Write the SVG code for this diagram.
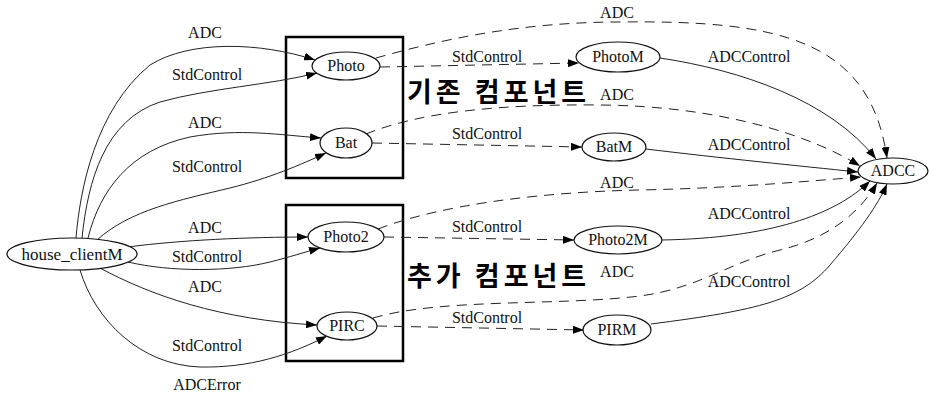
<svg xmlns="http://www.w3.org/2000/svg" width="930" height="393" viewBox="0 0 930 393">
  <style>
    .bg { fill: #ffffff; }
    .node ellipse { fill: #ffffff; stroke: #111; stroke-width: 1.2; }
    .node text, .lbl { font-family: "Liberation Serif", "Times New Roman", serif; font-size: 16px; fill: #111; text-anchor: middle; }
    .box { fill: none; stroke: #000; stroke-width: 2.5; }
    .edge { fill: none; stroke: #222; stroke-width: 1; marker-end: url(#arrow); }
    .dash { stroke-dasharray: 10 7; }
    .title { font-family: "Noto Sans CJK KR", "Noto Sans", sans-serif; font-size: 27px; font-weight: 700; fill: #000; letter-spacing: 4px; }
  </style>
  <defs>
    <marker id="arrow" markerWidth="11" markerHeight="8" refX="11" refY="4" orient="auto" markerUnits="userSpaceOnUse">
      <path d="M0,0 L11,4 L0,8 z" fill="#000"/>
    </marker>
  </defs>

  <rect class="bg" x="0" y="0" width="930" height="393"/>

  <!-- component group frames -->
  <rect class="box" x="286" y="37" width="117" height="141"/>
  <rect class="box" x="286" y="205" width="117" height="156"/>

  <!-- connectors -->
  <g id="edges">
    <!-- house_clientM to sensor wrappers -->
    <path class="edge" d="M76,238 C80,190 95,110 150,65 C190,40 260,42 315,60"/>
    <path class="edge" d="M82,238 C88,180 105,120 160,102 C210,88 270,85 317,73"/>
    <path class="edge" d="M88,238 C100,190 130,150 190,137 C240,128 280,135 321,138"/>
    <path class="edge" d="M97,240 C130,210 180,200 230,188 C270,178 300,165 326,153"/>
    <path class="edge" d="M128,247 C180,240 250,237 308,237"/>
    <path class="edge" d="M128,262 C170,272 230,272 270,262 C290,257 305,252 320,248"/>
    <path class="edge" d="M100,268 C150,295 220,320 317,325"/>
    <path class="edge" d="M80,270 C95,320 140,365 200,367 C250,368 290,355 327,336"/>

    <!-- wrappers to ADCC (ADC, dashed) -->
    <path class="edge dash" d="M376,58 C440,40 520,22 620,22 C780,20 870,40 887,158"/>
    <path class="edge dash" d="M366,134 C420,112 500,104 600,105 C720,106 810,135 860,166"/>
    <path class="edge dash" d="M378,229 C440,205 540,192 640,190 C740,188 820,180 861,177"/>
    <path class="edge dash" d="M373,318 C440,298 560,306 640,296 C700,288 730,262 780,250 C830,238 860,212 877,183"/>

    <!-- wrappers to M modules (StdControl, dashed) -->
    <path class="edge dash" d="M380,67 L579,63"/>
    <path class="edge dash" d="M372,143 L582,147"/>
    <path class="edge dash" d="M384,237 L574,240"/>
    <path class="edge dash" d="M377,326 L584,330"/>

    <!-- M modules to ADCC (ADCControl) -->
    <path class="edge" d="M660,58 C740,70 830,100 876,159"/>
    <path class="edge" d="M646,149 C720,158 800,166 858,172"/>
    <path class="edge" d="M662,240 C770,238 835,215 870,181"/>
    <path class="edge" d="M651,324 C760,310 800,300 830,265 C860,230 878,205 887,184"/>
  </g>

  <!-- connector labels -->
  <g id="edge-labels">
    <text class="lbl" x="205" y="38">ADC</text>
    <text class="lbl" x="207" y="80">StdControl</text>
    <text class="lbl" x="205" y="128">ADC</text>
    <text class="lbl" x="207" y="172">StdControl</text>
    <text class="lbl" x="205" y="233">ADC</text>
    <text class="lbl" x="207" y="262">StdControl</text>
    <text class="lbl" x="205" y="292">ADC</text>
    <text class="lbl" x="207" y="351">StdControl</text>
    <text class="lbl" x="207" y="390">ADCError</text>

    <text class="lbl" x="487" y="62">StdControl</text>
    <text class="lbl" x="487" y="139">StdControl</text>
    <text class="lbl" x="487" y="232">StdControl</text>
    <text class="lbl" x="487" y="323">StdControl</text>

    <text class="lbl" x="617" y="18">ADC</text>
    <text class="lbl" x="617" y="100">ADC</text>
    <text class="lbl" x="617" y="188">ADC</text>
    <text class="lbl" x="617" y="277">ADC</text>

    <text class="lbl" x="749" y="62">ADCControl</text>
    <text class="lbl" x="749" y="150">ADCControl</text>
    <text class="lbl" x="749" y="219">ADCControl</text>
    <text class="lbl" x="749" y="287">ADCControl</text>
  </g>

  <!-- group captions -->
  <text class="title" x="407" y="102">기존 컴포넌트</text>
  <text class="title" x="407" y="286">추가 컴포넌트</text>

  <!-- nodes -->
  <g id="house_clientM" class="node">
    <ellipse cx="72" cy="254" rx="65" ry="16"/>
    <text x="72" y="260" style="font-size:17px">house_clientM</text>
  </g>
  <g id="Photo" class="node">
    <ellipse cx="346" cy="66" rx="34" ry="14"/>
    <text x="346" y="71">Photo</text>
  </g>
  <g id="Bat" class="node">
    <ellipse cx="346" cy="143" rx="26" ry="15"/>
    <text x="346" y="148">Bat</text>
  </g>
  <g id="Photo2" class="node">
    <ellipse cx="346" cy="237" rx="38" ry="15"/>
    <text x="346" y="242">Photo2</text>
  </g>
  <g id="PIRC" class="node">
    <ellipse cx="347" cy="326" rx="30" ry="14"/>
    <text x="347" y="331">PIRC</text>
  </g>
  <g id="PhotoM" class="node">
    <ellipse cx="618" cy="57" rx="42" ry="15"/>
    <text x="618" y="62">PhotoM</text>
  </g>
  <g id="BatM" class="node">
    <ellipse cx="614" cy="147" rx="32" ry="14"/>
    <text x="614" y="152">BatM</text>
  </g>
  <g id="Photo2M" class="node">
    <ellipse cx="618" cy="240" rx="44" ry="14"/>
    <text x="618" y="245">Photo2M</text>
  </g>
  <g id="PIRM" class="node">
    <ellipse cx="617" cy="330" rx="34" ry="15"/>
    <text x="617" y="335">PIRM</text>
  </g>
  <g id="ADCC" class="node">
    <ellipse cx="893" cy="171" rx="35" ry="13"/>
    <text x="893" y="176">ADCC</text>
  </g>
</svg>
